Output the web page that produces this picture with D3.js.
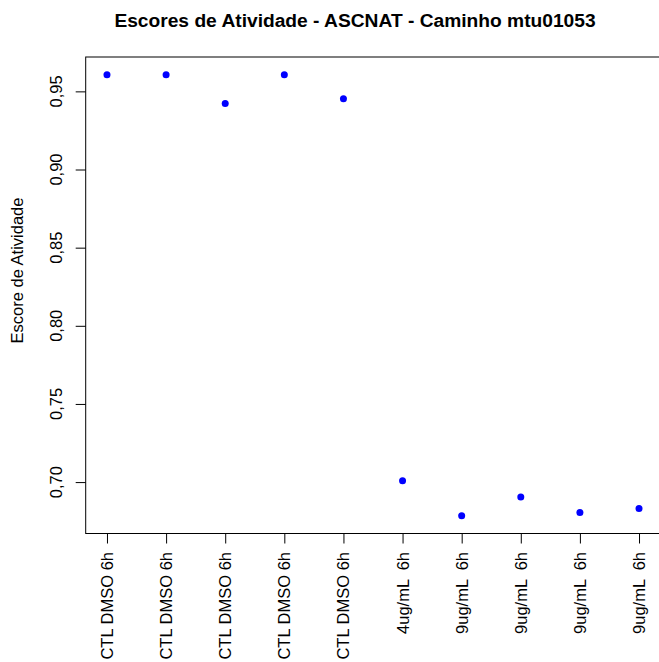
<!DOCTYPE html>
<html>
<head>
<meta charset="utf-8">
<script src="https://cdn.jsdelivr.net/npm/d3@7"></script>
<style>
  html, body { margin: 0; padding: 0; background: #fff; }
  svg text { font-family: "Liberation Sans", Arial, Helvetica, sans-serif; white-space: pre; }
</style>
</head>
<body>
<svg id="chart" width="659" height="662"></svg>
<script>
// Sample labels along the x axis
const samples = [
  "CTL DMSO 6h", "CTL DMSO 6h", "CTL DMSO 6h", "CTL DMSO 6h", "CTL DMSO 6h",
  "4ug/mL  6h", "9ug/mL  6h", "9ug/mL  6h", "9ug/mL  6h", "9ug/mL  6h"
];
// Activity score per sample
const scores = [0.9607, 0.9607, 0.9423, 0.9607, 0.9453, 0.7008, 0.6784, 0.6904, 0.6805, 0.6831];
// Y axis ticks
const yTicks = [0.70, 0.75, 0.80, 0.85, 0.90, 0.95];

const title = "Escores de Atividade - ASCNAT - Caminho mtu01053";
const yTitle = "Escore de Atividade";

const svg = d3.select("#chart");
const plot = { left: 85.7, right: 660.3, top: 57, bottom: 533.5 };
const fontSize = 16.5;

// R-style 4% padding around the data range
const n = samples.length;
const xPad = (n - 1) * 0.04;
const yMin = d3.min(scores), yMax = d3.max(scores);
const yPad = (yMax - yMin) * 0.04;

const x = d3.scaleLinear().domain([1 - xPad, n + xPad]).range([plot.left, plot.right]);
const y = d3.scaleLinear().domain([yMin - yPad, yMax + yPad]).range([plot.bottom, plot.top]);

const fmt = v => d3.format(".2f")(v).replace(".", ",");

// Y axis ticks
const yAxis = d3.axisLeft(y).tickValues(yTicks).tickSize(10).tickFormat("");
const gy = svg.append("g").attr("transform", `translate(${plot.left},0)`).call(yAxis);
gy.select(".domain").remove();
gy.selectAll(".tick line").attr("stroke", "#000");

svg.append("g").selectAll("text").data(yTicks).join("text")
  .attr("transform", d => `translate(62,${y(d)}) rotate(-90)`)
  .attr("text-anchor", "middle")
  .attr("font-size", fontSize)
  .attr("fill", "#000")
  .text(fmt);

// X axis ticks
const idx = d3.range(1, n + 1);
const xAxis = d3.axisBottom(x).tickValues(idx).tickSize(10).tickFormat("");
const gx = svg.append("g").attr("transform", `translate(0,${plot.bottom})`).call(xAxis);
gx.select(".domain").remove();
gx.selectAll(".tick line").attr("stroke", "#000");

svg.append("g").selectAll("text").data(samples).join("text")
  .attr("transform", (d, i) => `translate(${x(i + 1) + 6},552) rotate(-90)`)
  .attr("text-anchor", "end")
  .attr("font-size", fontSize)
  .attr("fill", "#000")
  .text(d => d);

// Plot frame
svg.append("rect")
  .attr("x", plot.left).attr("y", plot.top)
  .attr("width", plot.right - plot.left).attr("height", plot.bottom - plot.top)
  .attr("fill", "none").attr("stroke", "#000").attr("stroke-width", 1);

// Points
svg.append("g").selectAll("circle").data(scores).join("circle")
  .attr("cx", (d, i) => x(i + 1))
  .attr("cy", d => y(d))
  .attr("r", 3.5)
  .attr("fill", "#0000ff");

// Titles
svg.append("text")
  .attr("x", 355).attr("y", 27)
  .attr("text-anchor", "middle")
  .attr("font-size", 19.2).attr("font-weight", "bold")
  .attr("fill", "#000")
  .text(title);

svg.append("text")
  .attr("transform", "translate(23,270.5) rotate(-90)")
  .attr("text-anchor", "middle")
  .attr("font-size", fontSize)
  .attr("fill", "#000")
  .text(yTitle);
</script>
</body>
</html>
